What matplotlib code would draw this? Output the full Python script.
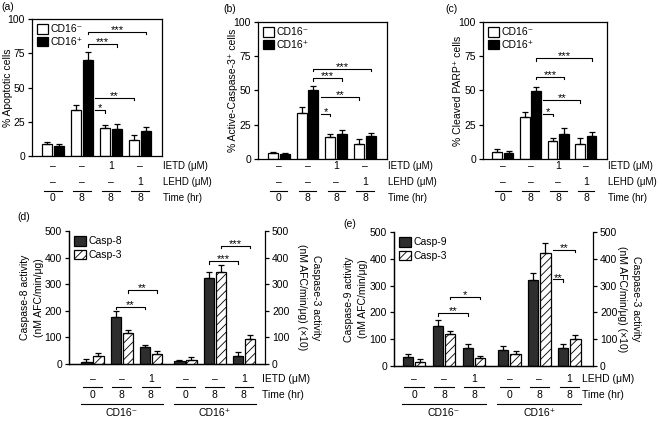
import numpy as np
import matplotlib
matplotlib.use('Agg')
import matplotlib.pyplot as plt
import matplotlib.transforms as mtransforms

plt.rcParams['font.family'] = ['Liberation Sans', 'DejaVu Sans']
plt.rcParams['font.size'] = 7.5
plt.rcParams['hatch.linewidth'] = 0.6
plt.rcParams['axes.linewidth'] = 0.9

W, H = 658, 421

# ---- top row data (a, b, c) ----
groups_top = [0, 1, 2, 3]
ietd_top = ['–', '–', '1', '–']
lehd_top = ['–', '–', '–', '1']
time_top = ['0', '8', '8', '8']

apop_neg = [8.5, 33.5, 20.5, 12]
apop_neg_err = [2, 4, 2, 3.5]
apop_pos = [7, 70, 20, 18]
apop_pos_err = [2, 6, 3.5, 3]

act3_neg = [4.4, 33.8, 16.2, 11]
act3_neg_err = [1, 4, 2, 3.5]
act3_pos = [3.7, 50, 18, 16.7]
act3_pos_err = [0.8, 3.5, 3.5, 2.5]

parp_neg = [5, 31, 13, 11.3]
parp_neg_err = [2, 3, 2, 4]
parp_pos = [4.2, 49.8, 18.4, 17]
parp_pos_err = [2, 2.5, 4, 2.5]

# brackets: (group1, series1, group2, series2, y, stars); series None = gap after bar
brk_a = [(1, 1, 3, 1, 90.7, '***'), (1, 1, 2, 1, 81.5, '***'),
         (1, None, 3, 0, 42.7, '**'), (1, None, 2, 0, 33.4, '*')]
brk_b = [(1, 1, 3, 1, 66, '***'), (1, 1, 2, 1, 59, '***'),
         (1, None, 3, 0, 45, '**'), (1, None, 2, 0, 33, '*')]
brk_c = [(1, 1, 3, 1, 73.5, '***'), (1, 1, 2, 1, 60, '***'),
         (1, None, 3, 0, 43, '**'), (1, None, 2, 0, 33, '*')]

# ---- bottom row data (d, e) ----
groups_bot = [0, 1, 2, 3.18, 4.18, 5.18]
inhib_bot = ['–', '–', '1', '–', '–', '1']
time_bot = ['0', '8', '8', '0', '8', '8']

casp8 = [8, 177, 63, 10, 322, 30]
casp8_err = [9, 22, 8, 6, 24, 15]
casp3_d = [29, 117, 39, 15, 345, 94]
casp3_d_err = [13, 12, 10, 13, 27, 14]

casp9 = [35, 150, 66, 59, 322, 66]
casp9_err = [11, 21, 16, 15, 25, 15]
casp3_e = [14, 120, 30, 45, 423, 99]
casp3_e_err = [11, 9, 9, 12, 35, 15]

brk_d = [(1, 0, 2, 0, 215, '**'), (1, 1, 2, 1, 278, '**'),
         (4, 0, 5, 0, 387, '***'), (4, 1, 5, 1, 444, '***')]
brk_e = [(1, 0, 2, 0, 197, '**'), (1, 1, 2, 1, 259, '*'),
         (4, None, 5, 0, 323, '**'), (4, None, 5, 1, 433, '**')]

OFF = 0.205
BW = 0.35

fig = plt.figure(figsize=(W / 100, H / 100), dpi=100)


def px_box(l, t, r, b):
    return [l / W, 1 - b / H, (r - l) / W, (b - t) / H]


def fy(ypx):
    return 1 - ypx / H


def bar_x(xs, g, s):
    if s is None:
        return xs[g] + OFF + BW / 2 + 0.08
    return xs[g] + (OFF if s == 1 else -OFF)


def draw_brackets(ax, xs, brackets, hpx):
    y0, y1 = ax.get_ylim()
    tick = 2.5 * (y1 - y0) / hpx
    for g1, s1, g2, s2, y, lab in brackets:
        xa = bar_x(xs, g1, s1)
        xb = bar_x(xs, g2, s2)
        if s1 is None:
            ax.plot([xa, xb, xb], [y, y, y - tick], color='black', lw=0.8,
                    clip_on=False, zorder=5)
        else:
            ax.plot([xa, xa, xb, xb], [y - tick, y, y, y - tick],
                    color='black', lw=0.8, clip_on=False, zorder=5)
        ax.annotate(lab, ((xa + xb) / 2, y), xytext=(0, 1.3),
                    textcoords='offset points', ha='center', va='center',
                    fontsize=8, zorder=6)


def style_left(ax):
    ax.tick_params(axis='y', direction='out', length=3, width=0.9, pad=2,
                   labelsize=7.5)
    ax.tick_params(axis='x', bottom=False, labelbottom=False)


def top_panel(rect, letter, letter_px, ylabel, ylab_x, neg, neg_err, pos,
              pos_err, brackets):
    ax = fig.add_axes(px_box(*rect))
    xs = np.array(groups_top, dtype=float)
    ekw = dict(lw=0.9, capthick=0.9)
    ax.bar(xs - OFF, neg, BW, color='white', edgecolor='black', lw=0.9,
           yerr=[np.zeros(len(neg)), neg_err], capsize=2, error_kw=ekw,
           label='CD16⁻')
    ax.bar(xs + OFF, pos, BW, color='black', edgecolor='black', lw=0.9,
           yerr=[np.zeros(len(pos)), pos_err], capsize=2, error_kw=ekw,
           label='CD16⁺')
    ax.set_ylim(0, 100)
    ax.set_xlim(-0.72, 3.76)
    ax.set_yticks([0, 25, 50, 75, 100])
    style_left(ax)
    ax.set_ylabel(ylabel, fontsize=7.5)
    ax.yaxis.set_label_coords(ylab_x, 0.5)
    ax.legend(loc='upper left', frameon=False, fontsize=7.5, handlelength=1.0,
              handleheight=1.0, handletextpad=0.3, labelspacing=0.25,
              borderaxespad=0.3, borderpad=0.2)
    draw_brackets(ax, xs, brackets, rect[3] - rect[1])

    tr = mtransforms.blended_transform_factory(ax.transData, fig.transFigure)
    trn = mtransforms.blended_transform_factory(ax.transAxes, fig.transFigure)
    rows = [(ietd_top, 166, 'IETD (μM)'), (lehd_top, 182, 'LEHD (μM)'),
            (time_top, 198, 'Time (hr)')]
    for labels, ypx, name in rows:
        for xi, lab in zip(xs, labels):
            ax.text(xi, fy(ypx), lab, transform=tr, ha='center', va='center',
                    fontsize=7.5)
        ax.text(1.01, fy(ypx), name, transform=trn, ha='left', va='center',
                fontsize=7)
    for xi in xs:
        ax.plot([xi - 0.3, xi + 0.3], [fy(190.5)] * 2, transform=tr,
                color='black', lw=0.8, clip_on=False)
    fig.text(letter_px[0] / W, fy(letter_px[1]), letter, ha='left', va='top',
             fontsize=7.5)
    return ax


def bottom_panel(rect, letter, letter_px, ylab_l, ylab_r, casp, casp_err,
                 c3, c3_err, casp_name, inhib_name, brackets, xlim, name_x,
                 ylab_lx, ylab_rx):
    ax = fig.add_axes(px_box(*rect))
    ax2 = ax.twinx()
    xs = np.array(groups_bot, dtype=float)
    ekw = dict(lw=0.9, capthick=0.9)
    b1 = ax.bar(xs - OFF, casp, BW, color='#2e2e2e', edgecolor='black', lw=0.9,
                yerr=[np.zeros(len(casp)), casp_err], capsize=2, error_kw=ekw,
                label=casp_name)
    b2 = ax2.bar(xs + OFF, c3, BW, color='white', edgecolor='black', lw=0.9,
                 hatch='////', yerr=[np.zeros(len(c3)), c3_err], capsize=2,
                 error_kw=ekw, label='Casp-3')
    for a in (ax, ax2):
        a.set_ylim(0, 500)
        a.set_xlim(*xlim)
        a.set_yticks([0, 100, 200, 300, 400, 500])
        a.spines['top'].set_visible(False)
    ax.spines['right'].set_visible(False)
    style_left(ax)
    ax2.tick_params(axis='y', direction='out', length=3, width=0.9, pad=2,
                    labelsize=7.5)
    ax.set_ylabel(ylab_l, fontsize=7.5, linespacing=1.5)
    ax.yaxis.set_label_coords(ylab_lx, 0.5)
    ax2.set_ylabel(ylab_r, fontsize=7.5, rotation=-90, linespacing=1.5,
                   va='center')
    ax2.yaxis.set_label_coords(ylab_rx, 0.5)
    ax2.legend([b1, b2], [casp_name, 'Casp-3'], loc='upper left',
               frameon=False, fontsize=7.5, handlelength=1.1, handleheight=1.0,
               handletextpad=0.3, labelspacing=0.35, borderaxespad=0.3,
               borderpad=0.2)
    draw_brackets(ax, xs, brackets, rect[3] - rect[1])

    tr = mtransforms.blended_transform_factory(ax.transData, fig.transFigure)
    trn = mtransforms.blended_transform_factory(ax.transAxes, fig.transFigure)
    for labels, ypx, name in [(inhib_bot, 379, inhib_name),
                              (time_bot, 395, 'Time (hr)')]:
        for xi, lab in zip(xs, labels):
            ax.text(xi, fy(ypx), lab, transform=tr, ha='center', va='center',
                    fontsize=7.5)
        ax.text(name_x, fy(ypx), name, transform=trn, ha='left', va='center',
                fontsize=7.5)
    for xi in xs:
        ax.plot([xi - 0.32, xi + 0.32], [fy(386.5)] * 2, transform=tr,
                color='black', lw=0.8, clip_on=False)
    for grp, lab in [(xs[:3], 'CD16⁻'), (xs[3:], 'CD16⁺')]:
        ax.plot([grp[0] - 0.4, grp[-1] + 0.4], [fy(403.5)] * 2, transform=tr,
                color='black', lw=0.8, clip_on=False)
        ax.text(grp.mean(), fy(413), lab, transform=tr, ha='center',
                va='center', fontsize=7.5)
    fig.text(letter_px[0] / W, fy(letter_px[1]), letter, ha='left', va='top',
             fontsize=7.5)
    return ax


top_panel((32, 19, 162, 156), '(a)', (1, 2), '% Apoptotic cells', -0.146,
          apop_neg, apop_neg_err, apop_pos, apop_pos_err, brk_a)
top_panel((258, 22, 387, 159), '(b)', (223, 4), '% Active-Caspase-3⁺ cells',
          -0.155, act3_neg, act3_neg_err, act3_pos, act3_pos_err, brk_b)
top_panel((483, 22, 607, 159), '(c)', (445, 4), '% Cleaved PARP⁺ cells',
          -0.16, parp_neg, parp_neg_err, parp_pos, parp_pos_err, brk_c)

bottom_panel((69, 231, 265, 364), '(d)', (17, 212),
             'Caspase-8 activity\n(nM AFC/min/μg)',
             'Caspase-3 activity\n(nM AFC/min/μg) (×10)',
             casp8, casp8_err, casp3_d, casp3_d_err, 'Casp-8', 'IETD (μM)',
             brk_d, (-0.8, 5.9), 0.985, -0.128, 1.222)
bottom_panel((394, 232, 593, 366), '(e)', (343, 219),
             'Caspase-9 activity\n(nM AFC/min/μg)',
             'Caspase-3 activity\n(nM AFC/min/μg) (×10)',
             casp9, casp9_err, casp3_e, casp3_e_err, 'Casp-9', 'LEHD (μM)',
             brk_e, (-0.67, 5.97), 0.945, -0.13, 1.18)

fig.savefig('out.png', dpi=100)
